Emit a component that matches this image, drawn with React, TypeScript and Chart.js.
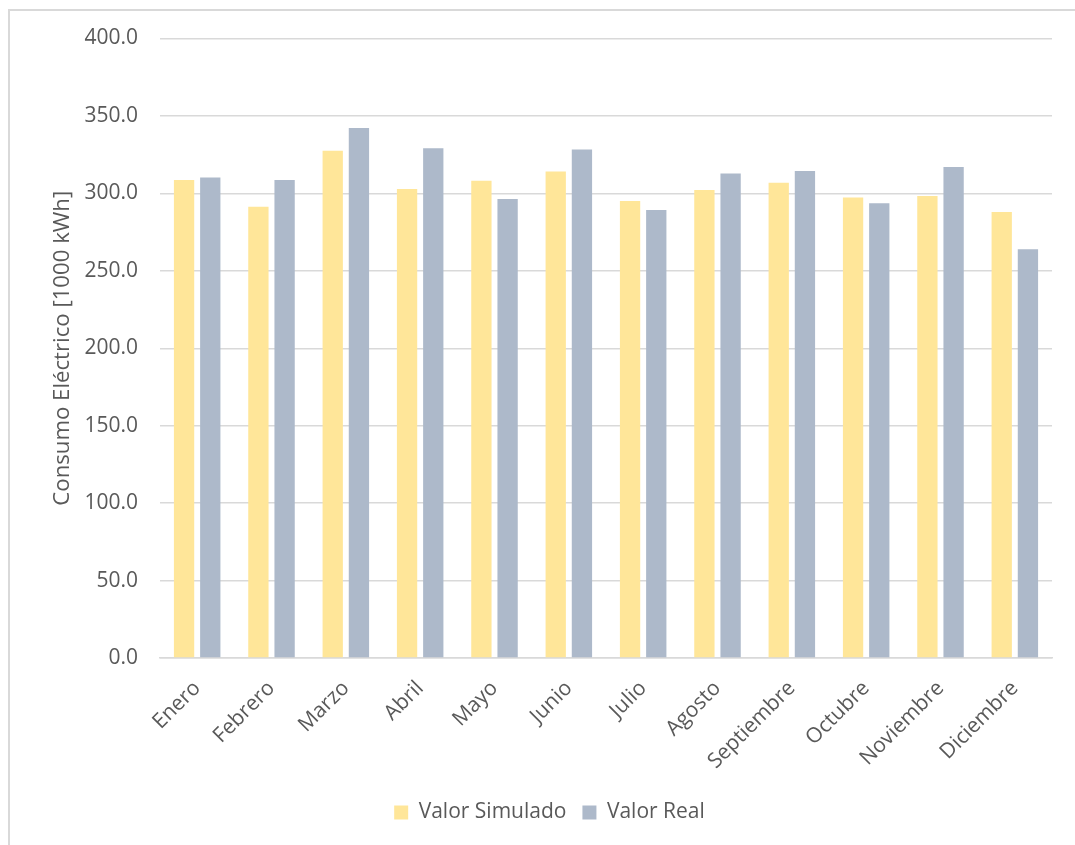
import React, { useEffect, useRef } from "react";
import { Chart, registerables } from "chart.js";

Chart.register(...registerables);

// Monthly electricity consumption, simulated vs. measured [1000 kWh]
const months = [
  "Enero", "Febrero", "Marzo", "Abril", "Mayo", "Junio",
  "Julio", "Agosto", "Septiembre", "Octubre", "Noviembre", "Diciembre",
];
const simulated = [308.6, 291.3, 327.6, 302.8, 308.2, 314.2, 295.0, 302.1, 306.9, 297.4, 298.3, 287.9];
const measured = [310.3, 308.6, 342.2, 329.1, 296.3, 328.4, 289.2, 312.9, 314.4, 293.7, 317.0, 264.0];

const seriesNames = ["Valor Simulado", "Valor Real"];
const yTitle = "Consumo Eléctrico [1000 kWh]";
const yMin = 0;
const yMax = 400;
const yStep = 50;

const TEXT = "#595959";
const GRID = "#d9d9d9";
const FONT = "'Open Sans', 'Noto Sans', sans-serif";

export default function App() {
  const canvasRef = useRef<HTMLCanvasElement | null>(null);

  useEffect(() => {
    const canvas = canvasRef.current;
    if (!canvas) return;
    const chart = new Chart(canvas, {
      type: "bar",
      data: {
        labels: months,
        datasets: [
          {
            label: seriesNames[0],
            data: simulated,
            backgroundColor: "#FFE699",
            categoryPercentage: 0.705,
            barPercentage: 0.775,
          },
          {
            label: seriesNames[1],
            data: measured,
            backgroundColor: "#ADB9CA",
            categoryPercentage: 0.705,
            barPercentage: 0.775,
          },
        ],
      },
      options: {
        animation: false,
        responsive: false,
        maintainAspectRatio: false,
        layout: { padding: { left: 37, right: 23, top: 27.5, bottom: 12 } },
        plugins: {
          tooltip: { enabled: false },
          legend: {
            position: "bottom",
            labels: {
              color: TEXT,
              font: { family: FONT, size: 21 },
              boxWidth: 14,
              boxHeight: 14,
              padding: 16,
            },
          },
        },
        scales: {
          x: {
            grid: { display: false, drawTicks: false },
            border: { display: true, color: GRID, width: 1.5 },
            ticks: {
              color: TEXT,
              font: { family: FONT, size: 21 },
              maxRotation: 45,
              minRotation: 45,
              padding: 18,
              autoSkip: false,
            },
            afterFit: (scale: any) => {
              scale.height = 128;
            },
          },
          y: {
            min: yMin,
            max: yMax,
            grid: {
              color: GRID,
              lineWidth: 1.5,
              drawTicks: true,
              tickLength: 22,
              tickColor: "rgba(0,0,0,0)",
            },
            border: { display: false },
            ticks: {
              stepSize: yStep,
              color: TEXT,
              font: { family: FONT, size: 21 },
              padding: 0,
              callback: (v: any) => Number(v).toFixed(1),
            },
            title: {
              display: true,
              text: yTitle,
              color: TEXT,
              font: { family: FONT, size: 22.2, weight: "normal" },
              padding: { top: 2, bottom: 0 },
            },
            afterFit: (scale: any) => {
              scale.width = 113;
            },
          },
        },
      },
    });
    return () => chart.destroy();
  }, []);

  return (
    <div
      style={{
        position: "fixed",
        left: 8,
        top: 9,
        right: 0,
        bottom: 0,
        borderLeft: `2px solid ${GRID}`,
        borderTop: `2px solid ${GRID}`,
        background: "#fff",
      }}
    >
      <canvas ref={canvasRef} width={1065} height={834} style={{ display: "block" }} />
    </div>
  );
}
